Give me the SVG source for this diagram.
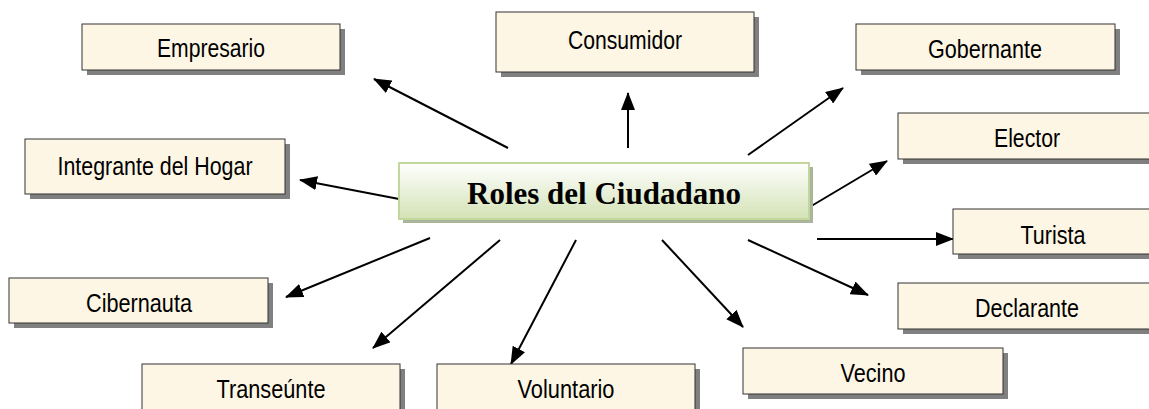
<svg xmlns="http://www.w3.org/2000/svg" width="1149" height="409" viewBox="0 0 1149 409">
<defs>
<linearGradient id="cg" x1="0" y1="0" x2="0" y2="1">
<stop offset="0" stop-color="#ffffff"/>
<stop offset="1" stop-color="#d3e2b5"/>
</linearGradient>
<marker id="ah" markerUnits="userSpaceOnUse" markerWidth="18" markerHeight="14" refX="17" refY="7" orient="auto">
<path d="M0,0 L18,7 L0,14 Z" fill="#000"/>
</marker>
<style>
.sh{fill:#808080}
.bx{fill:#fef6e4;stroke:#333;stroke-width:1}
.t{font-family:"Liberation Sans",Arial,sans-serif;font-size:26px;fill:#000;text-anchor:middle}
.c line{stroke:#000;stroke-width:2;marker-end:url(#ah)}
</style>
</defs>
<rect width="1149" height="409" fill="#fff"/>

<g id="connectors" class="c">
<line x1="508" y1="148" x2="374" y2="79"/>
<line x1="628" y1="148" x2="628" y2="93"/>
<line x1="748" y1="155" x2="843" y2="88"/>
<line x1="808" y1="208" x2="887" y2="161"/>
<line x1="817" y1="239" x2="953" y2="239"/>
<line x1="748" y1="240" x2="868" y2="295"/>
<line x1="662" y1="240" x2="743" y2="327"/>
<line x1="576" y1="240" x2="511" y2="364"/>
<line x1="500" y1="240" x2="373" y2="348"/>
<line x1="430" y1="238" x2="286" y2="297"/>
<line x1="399" y1="199" x2="300" y2="180"/>
</g>

<g id="center">
<rect x="403" y="167" width="410" height="56" fill="#a9b59a"/>
<rect x="399" y="163" width="410" height="56" fill="url(#cg)" stroke="#c3d69b" stroke-width="2"/>
<text x="604" y="204" font-family="'Liberation Serif','Times New Roman',serif" font-size="31" font-weight="bold" text-anchor="middle">Roles del Ciudadano</text>
</g>

<g id="empresario">
<rect class="sh" x="87" y="29" width="258" height="46"/>
<rect class="bx" x="82" y="24" width="258" height="46"/>
<text class="t" x="211" y="57" textLength="108" lengthAdjust="spacingAndGlyphs">Empresario</text>
</g>

<g id="consumidor">
<rect class="sh" x="501" y="17" width="258" height="60"/>
<rect class="bx" x="496" y="12" width="258" height="60"/>
<text class="t" x="625" y="49" textLength="114" lengthAdjust="spacingAndGlyphs">Consumidor</text>
</g>

<g id="gobernante">
<rect class="sh" x="861" y="29" width="259" height="46"/>
<rect class="bx" x="856" y="24" width="259" height="46"/>
<text class="t" x="985" y="58" textLength="114" lengthAdjust="spacingAndGlyphs">Gobernante</text>
</g>

<g id="integrante">
<rect class="sh" x="30" y="144" width="260" height="55"/>
<rect class="bx" x="25" y="139" width="260" height="55"/>
<text class="t" x="155" y="175" textLength="195" lengthAdjust="spacingAndGlyphs">Integrante del Hogar</text>
</g>

<g id="elector">
<rect class="sh" x="903" y="118" width="260" height="46"/>
<rect class="bx" x="898" y="113" width="260" height="46"/>
<text class="t" x="1027" y="147" textLength="66" lengthAdjust="spacingAndGlyphs">Elector</text>
</g>

<g id="turista">
<rect class="sh" x="958" y="214" width="210" height="45"/>
<rect class="bx" x="953" y="209" width="210" height="45"/>
<text class="t" x="1053" y="244" textLength="65" lengthAdjust="spacingAndGlyphs">Turista</text>
</g>

<g id="declarante">
<rect class="sh" x="903" y="288" width="260" height="46"/>
<rect class="bx" x="898" y="283" width="260" height="46"/>
<text class="t" x="1027" y="317" textLength="104" lengthAdjust="spacingAndGlyphs">Declarante</text>
</g>

<g id="vecino">
<rect class="sh" x="748" y="353" width="260" height="46"/>
<rect class="bx" x="743" y="348" width="260" height="46"/>
<text class="t" x="873" y="382" textLength="65" lengthAdjust="spacingAndGlyphs">Vecino</text>
</g>

<g id="cibernauta">
<rect class="sh" x="14" y="283" width="259" height="45"/>
<rect class="bx" x="9" y="278" width="259" height="45"/>
<text class="t" x="139" y="312" textLength="106" lengthAdjust="spacingAndGlyphs">Cibernauta</text>
</g>

<g id="transeunte">
<rect class="sh" x="147" y="369" width="258" height="60"/>
<rect class="bx" x="142" y="364" width="258" height="60"/>
<text class="t" x="271" y="398" textLength="109" lengthAdjust="spacingAndGlyphs">Transeúnte</text>
</g>

<g id="voluntario">
<rect class="sh" x="442" y="369" width="258" height="60"/>
<rect class="bx" x="437" y="364" width="258" height="60"/>
<text class="t" x="566" y="398" textLength="97" lengthAdjust="spacingAndGlyphs">Voluntario</text>
</g>
</svg>
